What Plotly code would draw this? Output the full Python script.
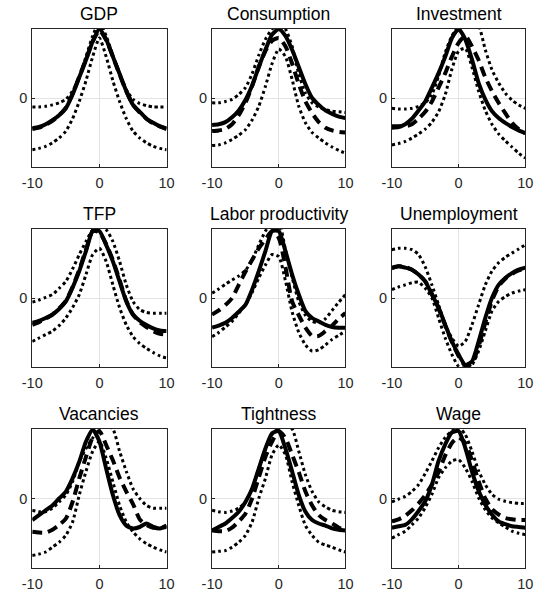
import plotly.graph_objects as go

# Horizon (quarters relative to the peak) and panel titles
horizon = list(range(-10, 11))
titles = ["GDP", "Consumption", "Investment",
          "TFP", "Labor productivity", "Unemployment",
          "Vacancies", "Tightness", "Wage"]

# Each panel: model (solid), data (dashed), upper / lower confidence band (dotted)
gdp_model = [-0.44, -0.42, -0.38, -0.32, -0.25, -0.15, 0.05, 0.3, 0.55, 0.82, 1.0, 0.85, 0.6, 0.35, 0.1, -0.1, -0.2, -0.3, -0.36, -0.41, -0.44]
gdp_data = [-0.45, -0.43, -0.39, -0.33, -0.25, -0.14, 0.06, 0.31, 0.56, 0.82, 0.98, 0.84, 0.6, 0.34, 0.1, -0.1, -0.21, -0.3, -0.37, -0.41, -0.45]
gdp_upper = [-0.13, -0.13, -0.12, -0.1, -0.07, -0.02, 0.1, 0.3, 0.6, 0.9, 1.1, 0.9, 0.62, 0.35, 0.12, -0.02, -0.08, -0.11, -0.13, -0.13, -0.13]
gdp_lower = [-0.75, -0.73, -0.7, -0.65, -0.58, -0.48, -0.3, -0.05, 0.25, 0.6, 0.87, 0.6, 0.25, -0.05, -0.3, -0.48, -0.58, -0.65, -0.7, -0.73, -0.75]

cons_model = [-0.39, -0.38, -0.35, -0.28, -0.18, -0.03, 0.18, 0.45, 0.7, 0.92, 1.0, 0.9, 0.7, 0.45, 0.2, 0.0, -0.1, -0.18, -0.23, -0.27, -0.29]
cons_data = [-0.48, -0.47, -0.45, -0.38, -0.25, -0.07, 0.17, 0.45, 0.68, 0.83, 0.87, 0.75, 0.5, 0.2, -0.05, -0.22, -0.35, -0.43, -0.47, -0.49, -0.5]
cons_upper = [-0.07, -0.07, -0.05, -0.02, 0.05, 0.15, 0.35, 0.62, 0.85, 1.0, 1.08, 1.0, 0.75, 0.35, 0.07, -0.07, -0.13, -0.17, -0.19, -0.2, -0.21]
cons_lower = [-0.69, -0.68, -0.65, -0.6, -0.54, -0.46, -0.32, -0.12, 0.17, 0.5, 0.71, 0.6, 0.27, -0.12, -0.36, -0.5, -0.58, -0.65, -0.71, -0.76, -0.8]

inv_model = [-0.43, -0.42, -0.38, -0.3, -0.18, -0.05, 0.15, 0.36, 0.6, 0.87, 1.0, 0.85, 0.56, 0.22, -0.02, -0.19, -0.29, -0.36, -0.42, -0.47, -0.51]
inv_data = [-0.41, -0.41, -0.41, -0.38, -0.3, -0.2, -0.05, 0.15, 0.36, 0.6, 0.8, 0.9, 0.75, 0.55, 0.3, 0.1, -0.07, -0.22, -0.36, -0.45, -0.51]
inv_upper = [-0.15, -0.16, -0.16, -0.15, -0.12, -0.07, 0.05, 0.32, 0.66, 0.9, 1.05, 1.12, 1.12, 1.05, 0.7, 0.41, 0.22, 0.07, -0.03, -0.1, -0.15]
inv_lower = [-0.68, -0.66, -0.63, -0.58, -0.52, -0.45, -0.35, -0.2, 0.05, 0.42, 0.68, 0.72, 0.45, 0.1, -0.18, -0.38, -0.52, -0.62, -0.71, -0.8, -0.87]

tfp_model = [-0.36, -0.33, -0.29, -0.24, -0.16, -0.05, 0.15, 0.39, 0.68, 0.97, 0.97, 0.77, 0.53, 0.24, -0.05, -0.24, -0.33, -0.39, -0.44, -0.47, -0.48]
tfp_data = [-0.39, -0.35, -0.3, -0.24, -0.15, -0.04, 0.16, 0.41, 0.7, 0.97, 0.95, 0.78, 0.55, 0.26, -0.04, -0.24, -0.35, -0.42, -0.48, -0.52, -0.53]
tfp_upper = [-0.06, -0.03, 0.01, 0.05, 0.14, 0.24, 0.42, 0.63, 0.82, 0.99, 1.05, 0.99, 0.82, 0.53, 0.19, -0.05, -0.17, -0.21, -0.22, -0.22, -0.22]
tfp_lower = [-0.63, -0.58, -0.53, -0.48, -0.4, -0.29, -0.14, 0.05, 0.34, 0.63, 0.72, 0.53, 0.19, -0.14, -0.39, -0.56, -0.66, -0.73, -0.79, -0.84, -0.87]

lp_model = [-0.43, -0.4, -0.36, -0.29, -0.2, -0.1, 0.12, 0.39, 0.68, 0.97, 0.97, 0.68, 0.34, 0.05, -0.19, -0.29, -0.34, -0.39, -0.42, -0.43, -0.43]
lp_data = [-0.24, -0.18, -0.1, 0.0, 0.19, 0.38, 0.55, 0.72, 0.85, 0.97, 0.87, 0.45, -0.05, -0.25, -0.43, -0.55, -0.55, -0.48, -0.4, -0.3, -0.22]
lp_upper = [0.07, 0.13, 0.2, 0.26, 0.32, 0.4, 0.55, 0.77, 0.97, 1.1, 1.1, 0.7, 0.3, -0.05, -0.25, -0.34, -0.36, -0.3, -0.18, -0.06, 0.05]
lp_lower = [-0.56, -0.5, -0.42, -0.34, -0.22, -0.1, 0.08, 0.29, 0.48, 0.63, 0.6, 0.25, -0.2, -0.5, -0.68, -0.77, -0.75, -0.68, -0.6, -0.54, -0.48]

unemp_model = [0.43, 0.46, 0.44, 0.41, 0.34, 0.24, 0.05, -0.14, -0.39, -0.63, -0.82, -0.97, -0.92, -0.63, -0.29, 0.0, 0.19, 0.29, 0.36, 0.41, 0.44]
unemp_data = [0.44, 0.46, 0.45, 0.41, 0.34, 0.24, 0.06, -0.15, -0.4, -0.64, -0.84, -0.98, -0.95, -0.7, -0.36, -0.04, 0.17, 0.28, 0.35, 0.4, 0.43]
unemp_upper = [0.7, 0.72, 0.72, 0.7, 0.63, 0.45, 0.19, -0.1, -0.39, -0.58, -0.7, -0.63, -0.39, -0.1, 0.19, 0.39, 0.51, 0.59, 0.65, 0.71, 0.77]
unemp_lower = [0.12, 0.16, 0.19, 0.22, 0.23, 0.14, 0.0, -0.29, -0.58, -0.82, -0.99, -1.02, -0.97, -0.77, -0.48, -0.19, -0.05, 0.02, 0.07, 0.1, 0.12]

vac_model = [-0.31, -0.24, -0.17, -0.1, 0.0, 0.1, 0.29, 0.53, 0.82, 0.99, 0.82, 0.43, 0.05, -0.24, -0.39, -0.43, -0.41, -0.36, -0.41, -0.43, -0.39]
vac_data = [-0.48, -0.49, -0.49, -0.45, -0.38, -0.29, -0.05, 0.29, 0.6, 0.88, 0.97, 0.77, 0.55, 0.3, 0.1, -0.08, -0.3, -0.38, -0.42, -0.42, -0.41]
vac_upper = [-0.17, -0.19, -0.19, -0.14, -0.05, 0.05, 0.24, 0.53, 0.72, 0.87, 1.01, 1.05, 1.0, 0.68, 0.39, 0.14, 0.0, -0.1, -0.14, -0.14, -0.14]
vac_lower = [-0.82, -0.8, -0.77, -0.7, -0.63, -0.53, -0.34, 0.05, 0.39, 0.68, 0.82, 0.58, 0.24, -0.1, -0.34, -0.48, -0.58, -0.65, -0.7, -0.74, -0.77]

tight_model = [-0.46, -0.41, -0.36, -0.28, -0.19, -0.05, 0.14, 0.43, 0.72, 0.94, 0.97, 0.72, 0.39, 0.05, -0.19, -0.31, -0.36, -0.39, -0.43, -0.45, -0.46]
tight_data = [-0.46, -0.47, -0.47, -0.42, -0.33, -0.22, 0.0, 0.3, 0.6, 0.82, 0.97, 0.87, 0.63, 0.38, 0.1, -0.1, -0.24, -0.31, -0.36, -0.42, -0.46]
tight_upper = [-0.17, -0.19, -0.2, -0.18, -0.14, -0.05, 0.14, 0.43, 0.72, 0.92, 1.01, 1.05, 1.0, 0.68, 0.34, 0.1, -0.05, -0.12, -0.17, -0.19, -0.2]
tight_lower = [-0.77, -0.76, -0.75, -0.7, -0.63, -0.53, -0.34, 0.0, 0.29, 0.63, 0.77, 0.63, 0.24, -0.1, -0.39, -0.53, -0.63, -0.67, -0.7, -0.74, -0.77]

wage_model = [-0.42, -0.4, -0.38, -0.3, -0.18, -0.04, 0.2, 0.54, 0.78, 0.95, 0.97, 0.73, 0.39, 0.11, -0.09, -0.23, -0.33, -0.37, -0.4, -0.41, -0.42]
wage_data = [-0.33, -0.3, -0.25, -0.17, -0.07, 0.05, 0.2, 0.38, 0.62, 0.8, 0.88, 0.8, 0.55, 0.25, 0.0, -0.15, -0.23, -0.28, -0.3, -0.31, -0.31]
wage_upper = [-0.05, -0.01, 0.03, 0.1, 0.2, 0.36, 0.54, 0.73, 0.88, 0.97, 1.02, 0.92, 0.68, 0.4, 0.2, 0.06, -0.01, -0.04, -0.06, -0.07, -0.07]
wage_lower = [-0.57, -0.52, -0.47, -0.38, -0.28, -0.13, 0.06, 0.3, 0.44, 0.54, 0.56, 0.44, 0.25, 0.01, -0.16, -0.28, -0.35, -0.41, -0.47, -0.5, -0.52]

panels = [
    (gdp_model, gdp_data, gdp_upper, gdp_lower),
    (cons_model, cons_data, cons_upper, cons_lower),
    (inv_model, inv_data, inv_upper, inv_lower),
    (tfp_model, tfp_data, tfp_upper, tfp_lower),
    (lp_model, lp_data, lp_upper, lp_lower),
    (unemp_model, unemp_data, unemp_upper, unemp_lower),
    (vac_model, vac_data, vac_upper, vac_lower),
    (tight_model, tight_data, tight_upper, tight_lower),
    (wage_model, wage_data, wage_upper, wage_lower),
]

W, H = 542, 597
col_px = [(23, 162), (209, 347), (395, 533)]
row_px = [(29, 167), (229, 367), (429, 568)]

FONT = "Liberation Sans, Arial, Helvetica, sans-serif"
fig = go.Figure()
layout = dict(
    width=W, height=H, margin=dict(l=0, r=0, t=0, b=0),
    paper_bgcolor="white", plot_bgcolor="white", showlegend=False,
    font=dict(family=FONT, size=14, color="#262626"),
)
annotations = []

for i, (model, data, upper, lower) in enumerate(panels):
    r, c = divmod(i, 3)
    n = "" if i == 0 else str(i + 1)
    xa, ya = "x" + n, "y" + n
    x0, x1 = col_px[c]
    y0, y1 = row_px[r]
    common = dict(x=horizon, xaxis=xa, yaxis=ya, mode="lines", hoverinfo="skip")
    fig.add_trace(go.Scatter(y=model, line=dict(color="black", width=4, shape="spline", smoothing=0.6), **common))
    fig.add_trace(go.Scatter(y=data, line=dict(color="black", width=4, dash="10px,6px", shape="spline", smoothing=0.6), **common))
    for band in (upper, lower):
        fig.add_trace(go.Scatter(y=band, line=dict(color="black", width=3, dash="3px,3px", shape="spline", smoothing=0.6), **common))

    axis_style = dict(showline=True, linecolor="#262626", linewidth=1, mirror=True,
                      ticks="inside", ticklen=3, tickcolor="#262626",
                      showgrid=True, gridcolor="#e3e3e3", gridwidth=1, zeroline=False,
                      tickfont=dict(family=FONT, size=14.5, color="#262626"))
    layout["xaxis" + n] = dict(domain=[x0 / W, x1 / W], range=[-10, 10], tickvals=[-10, 0, 10],
                               ticktext=["-10", "0", "10"], anchor=ya, ticklabelstandoff=3,
                               **axis_style)
    layout["yaxis" + n] = dict(domain=[1 - y1 / H, 1 - y0 / H], range=[-1, 1], tickvals=[0],
                               anchor=xa, ticklabelstandoff=1, **axis_style)
    annotations.append(dict(text=titles[i], x=(x0 + x1) / 2 / W, y=1 - (y0 - 3) / H,
                            xref="paper", yref="paper", xanchor="center", yanchor="bottom",
                            showarrow=False, font=dict(family=FONT, size=17.5, color="black")))

layout["annotations"] = annotations
fig.update_layout(**layout)
fig.write_html("out.html")
